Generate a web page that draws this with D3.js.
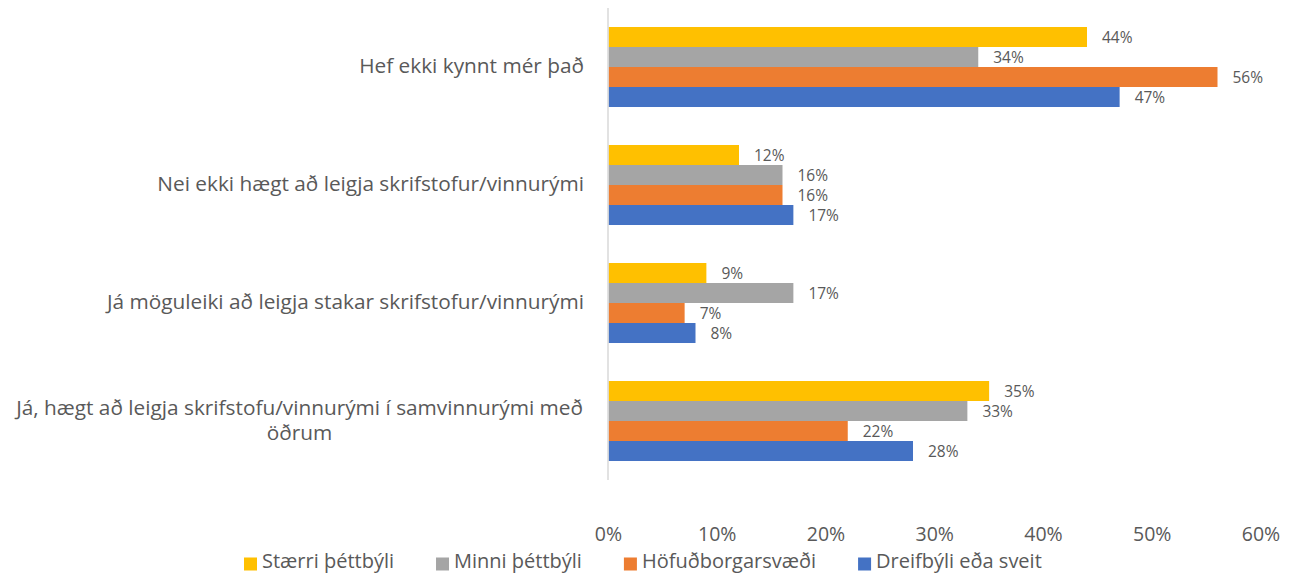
<!DOCTYPE html>
<html>
<head>
<meta charset="utf-8">
<script src="https://cdn.jsdelivr.net/npm/d3@7"></script>
<style>
  body { margin: 0; background: #fff; }
  svg { font-family: "Open Sans", sans-serif; }
</style>
</head>
<body>
<div class="main"></div>
<script>
const categories = [
  ["Hef ekki kynnt mér það"],
  ["Nei ekki hægt að leigja skrifstofur/vinnurými"],
  ["Já möguleiki að leigja stakar skrifstofur/vinnurými"],
  ["Já, hægt að leigja skrifstofu/vinnurými í samvinnurými með", "öðrum"]
];
const seriesNames = ["Stærri þéttbýli", "Minni þéttbýli", "Höfuðborgarsvæði", "Dreifbýli eða sveit"];
const stærri = [0.44, 0.12, 0.09, 0.35];
const minni = [0.34, 0.16, 0.17, 0.33];
const hofud = [0.56, 0.16, 0.07, 0.22];
const dreif = [0.47, 0.17, 0.08, 0.28];
const seriesValues = [stærri, minni, hofud, dreif];
const colors = ["#FFC000", "#A5A5A5", "#ED7D31", "#4472C4"];
const xTicks = [0, 0.1, 0.2, 0.3, 0.4, 0.5, 0.6];

const fullwidth = 1294;
const fullheight = 575;
const textColor = "#595959";

const svg = d3
  .select(".main")
  .append("svg")
  .attr("width", fullwidth)
  .attr("height", fullheight);

const x = d3.scaleLinear().domain([0, 0.6]).range([608.5, 1261]);

const y = d3
  .scaleBand()
  .domain(d3.range(categories.length))
  .range([8, 480])
  .paddingInner(0.322)
  .paddingOuter(0.161);

const ySub = d3
  .scaleBand()
  .domain(d3.range(seriesNames.length))
  .range([0, y.bandwidth()]);

// x tick labels (no tick lines, no gridlines)
svg
  .append("g")
  .selectAll("text")
  .data(xTicks)
  .join("text")
  .attr("x", (d) => x(d))
  .attr("y", 536)
  .attr("text-anchor", "middle")
  .attr("dominant-baseline", "middle")
  .attr("fill", textColor)
  .style("font-size", "19.5px")
  .text(d3.format(".0%"));

// bars
const groups = svg
  .append("g")
  .selectAll("g")
  .data(categories)
  .join("g")
  .attr("transform", (d, i) => "translate(0," + y(i) + ")");

groups.each(function (cat, ci) {
  const g = d3.select(this);
  seriesValues.forEach((vals, si) => {
    g.append("rect")
      .attr("x", x(0))
      .attr("y", ySub(si))
      .attr("width", x(vals[ci]) - x(0))
      .attr("height", ySub.bandwidth())
      .attr("fill", colors[si]);
    g.append("text")
      .attr("x", x(vals[ci]) + 15)
      .attr("y", ySub(si) + ySub.bandwidth() / 2 + 2)
      .attr("dominant-baseline", "middle")
      .attr("fill", textColor)
      .style("font-size", "15.5px")
      .text(d3.format(".0%")(vals[ci]));
  });
});

// vertical axis line
svg
  .append("line")
  .attr("x1", x(0) - 0.5)
  .attr("x2", x(0) - 0.5)
  .attr("y1", y.range()[0])
  .attr("y2", y.range()[1])
  .attr("stroke", "#d9d9d9")
  .attr("stroke-width", 1.5);

// category labels
const labelRight = 584;
categories.forEach((lines, i) => {
  const cy = y(i) + y.bandwidth() / 2;
  const lh = 25;
  const t = svg
    .append("text")
    .attr("fill", textColor)
    .style("font-size", "20.8px")
    .attr("dominant-baseline", "middle");
  if (lines.length === 1) {
    t.attr("x", labelRight).attr("y", cy).attr("text-anchor", "end").text(lines[0]);
  } else {
    lines.forEach((ln, k) => {
      t.append("tspan")
        .attr("x", 0)
        .attr("y", cy + (k - (lines.length - 1) / 2) * lh)
        .attr("text-anchor", "middle")
        .text(ln);
    });
    const w = t.node().getBBox().width;
    t.selectAll("tspan").attr("x", labelRight - w / 2);
  }
});

// legend
const legend = svg.append("g").attr("transform", "translate(0,563)");
let lx = 244;
seriesNames.forEach((name, i) => {
  legend
    .append("rect")
    .attr("x", lx)
    .attr("y", -5.5)
    .attr("width", 13)
    .attr("height", 13)
    .attr("fill", colors[i]);
  const t = legend
    .append("text")
    .attr("x", lx + 18)
    .attr("y", 0)
    .attr("dominant-baseline", "middle")
    .attr("fill", textColor)
    .style("font-size", "20px")
    .text(name);
  lx += 18 + t.node().getComputedTextLength() + 42;
});
</script>
</body>
</html>
